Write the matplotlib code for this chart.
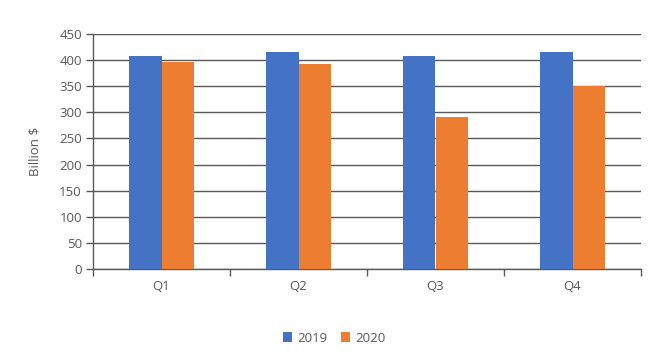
import matplotlib
matplotlib.use("Agg")
import matplotlib.pyplot as plt
import numpy as np

categories = ["Q1", "Q2", "Q3", "Q4"]
series_names = ["2019", "2020"]
values_2019 = [408, 416, 407, 416]
values_2020 = [396, 392, 292, 351]
yticks = [0, 50, 100, 150, 200, 250, 300, 350, 400, 450]

plt.rcParams['font.family'] = ['Open Sans', 'DejaVu Sans']
txt = '#595959'
fs = 9.5

fig = plt.figure(figsize=(6.69, 3.6), dpi=100)
ax = fig.add_axes([93/669, 91/360, (641-93)/669, (269-34)/360])

x = np.arange(len(categories))
w = 0.237
ax.bar(x - w/2, values_2019, w, color='#4472C4', label=series_names[0], zorder=3)
ax.bar(x + w/2, values_2020, w, color='#ED7D31', label=series_names[1], zorder=3)

ax.set_xlim(-0.5, len(categories) - 0.5)
ax.set_ylim(0, 450)
ax.set_yticks(yticks)
ax.set_yticklabels([str(v) for v in yticks], color=txt, fontsize=fs)
ax.yaxis.grid(True, color='#595959', linewidth=1.0, zorder=0)
ax.set_axisbelow(True)

ax.set_xticks(x)
ax.set_xticklabels(categories, color=txt, fontsize=fs)
ax.tick_params(axis='x', which='major', length=0, pad=8)
ax.set_xticks(np.arange(-0.5, len(categories), 1.0), minor=True)
ax.tick_params(axis='x', which='minor', length=5, color='#595959', width=1)
ax.tick_params(axis='y', length=5, color='#595959', width=1, pad=3)

for s in ['top', 'right']:
    ax.spines[s].set_visible(False)
for s in ['left', 'bottom']:
    ax.spines[s].set_color('#595959')
    ax.spines[s].set_linewidth(1.0)

ax.set_ylabel("Billion $", color=txt, fontsize=fs, labelpad=13)

fig.legend(loc='center', bbox_to_anchor=(0.5, 22/360), ncol=2, frameon=False,
           fontsize=fs, labelcolor=txt, handlelength=0.7, handleheight=0.7,
           handletextpad=0.4, columnspacing=1.0)

fig.savefig("out.png", dpi=100)
